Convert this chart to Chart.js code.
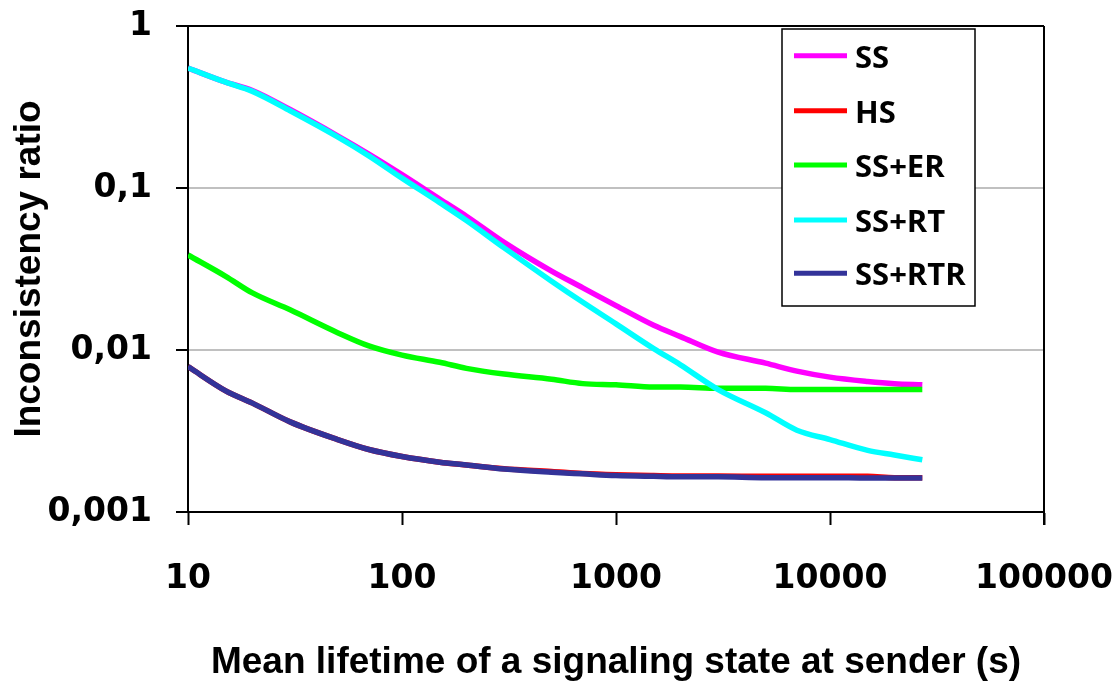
<!DOCTYPE html>
<html>
<head>
<meta charset="utf-8">
<script src="https://cdn.jsdelivr.net/npm/chart.js@4.4.1/dist/chart.umd.min.js"></script>
<style>
html,body{margin:0;padding:0;background:#fff;}
#wrap{position:relative;width:1120px;height:681px;}
</style>
</head>
<body>
<div id="wrap"><canvas id="c" width="1120" height="681"></canvas></div>
<script>
const xValues = [10,15,20,30,50,70,100,150,200,300,500,700,1000,1500,2000,3000,5000,7000,10000,15000,20000,27000];
const ssValues = [0.55,0.45,0.40,0.305,0.21,0.162,0.121,0.0855,0.067,0.0462,0.0307,0.0242,0.0188,0.0142,0.0121,0.0097,0.0083,0.0074,0.0068,0.0064,0.0062,0.0061];
const hsValues = [0.0079,0.0056,0.0047,0.0036,0.0028,0.00243,0.0022,0.00203,0.00195,0.00185,0.00178,0.00173,0.0017,0.00168,0.00167,0.00167,0.00166,0.00166,0.00166,0.00166,0.00163,0.00163];
const ssErValues = [0.0386,0.0285,0.0225,0.0177,0.0128,0.0106,0.0093,0.0084,0.0077,0.0071,0.0066,0.0062,0.0061,0.0059,0.0059,0.0058,0.0058,0.0057,0.0057,0.0057,0.0057,0.0057];
const ssRtValues = [0.55,0.45,0.395,0.30,0.207,0.158,0.115,0.0812,0.063,0.0427,0.0266,0.0197,0.0145,0.0102,0.0081,0.0057,0.0041,0.0032,0.0028,0.0024,0.00225,0.0021];
const ssRtrValues = [0.0079,0.0056,0.0047,0.0036,0.0028,0.00243,0.0022,0.00203,0.00195,0.00184,0.00176,0.00172,0.00168,0.00166,0.00165,0.00165,0.00163,0.00163,0.00163,0.00162,0.00162,0.00162];
const seriesNames = ['SS','HS','SS+ER','SS+RT','SS+RTR'];
const seriesColors = ['#FF00FF','#FF0000','#00FF00','#00FFFF','#333399'];
const xTickValues = [10,100,1000,10000,100000];
const xTickLabels = ['10','100','1000','10000','100000'];
const yTickValues = [0.001,0.01,0.1,1];
const yTickLabels = ['0,001','0,01','0,1','1'];
const xTitle = 'Mean lifetime of a signaling state at sender (s)';
const yTitle = 'Inconsistency ratio';

const allSeries = [ssValues,hsValues,ssErValues,ssRtValues,ssRtrValues];
const datasets = allSeries.map((vals,i)=>({
  label: seriesNames[i],
  data: xValues.map((x,j)=>({x:x,y:vals[j]})),
  borderColor: seriesColors[i],
  backgroundColor: seriesColors[i],
  borderWidth: 5.5,
  pointRadius: 0,
  tension: 0,
  cubicInterpolationMode: 'monotone',
  fill: false,
  order: allSeries.length - 1 - i
}));

const tickFont = {family:'"DejaVu Sans", sans-serif', size:33, weight:'bold'};
const titleFont = {family:'"Liberation Sans", Arial, sans-serif', size:37, weight:'bold'};

function zeroPad(s){s.paddingLeft=0;s.paddingRight=0;s.paddingTop=0;s.paddingBottom=0;}

const legendPlugin = {
  id:'boxLegend',
  afterDraw(chart){
    const ctx = chart.ctx;
    const bx=782, by=29, bw=193, bh=277;
    ctx.save();
    ctx.fillStyle='#fff';
    ctx.fillRect(bx,by,bw,bh);
    ctx.strokeStyle='#000';
    ctx.lineWidth=1.5;
    ctx.strokeRect(bx,by,bw,bh);
    const rows=[55.7,110.7,165,220,273.3];
    seriesNames.forEach((name,i)=>{
      const y=rows[i];
      ctx.strokeStyle=seriesColors[i];
      ctx.lineWidth=5;
      ctx.beginPath();ctx.moveTo(794,y);ctx.lineTo(847,y);ctx.stroke();
      ctx.fillStyle='#000';
      ctx.font='bold 31px "Open Sans", sans-serif';
      ctx.textBaseline='middle';
      ctx.textAlign='left';
      ctx.fillText(name,855,y+3);
    });
    ctx.restore();
  }
};

const borderPlugin = {
  id:'frame',
  afterDatasetsDraw(chart){
    const a=chart.chartArea, ctx=chart.ctx;
    ctx.save();
    ctx.strokeStyle='#000';
    ctx.lineWidth=2;
    ctx.beginPath();
    ctx.moveTo(a.left,a.top);ctx.lineTo(a.right,a.top);
    ctx.moveTo(a.right,a.top);ctx.lineTo(a.right,a.bottom+13);
    ctx.stroke();
    ctx.restore();
  }
};

new Chart(document.getElementById('c'),{
  type:'line',
  data:{datasets:datasets},
  plugins:[borderPlugin,legendPlugin],
  options:{
    responsive:false,
    devicePixelRatio:1,
    animation:false,
    layout:{padding:{top:26,right:76,left:0,bottom:0}},
    plugins:{legend:{display:false},tooltip:{enabled:false}},
    scales:{
      x:{
        type:'logarithmic',
        min:10,max:100000,
        afterBuildTicks(s){s.ticks=xTickValues.map(v=>({value:v}));},
        afterFit(s){s.height=169;zeroPad(s);},
        ticks:{
          callback(v){const k=xTickValues.indexOf(v);return k>=0?xTickLabels[k]:'';},
          font:tickFont,color:'#000',padding:35,maxRotation:0,autoSkip:false
        },
        grid:{display:true,drawOnChartArea:false,tickLength:13,tickColor:'#000',tickWidth:2},
        border:{display:true,color:'#000',width:2},
        title:{display:true,text:xTitle,font:titleFont,color:'#000',padding:{top:20,bottom:-4}}
      },
      y:{
        type:'logarithmic',
        min:0.001,max:1,
        afterBuildTicks(s){s.ticks=yTickValues.map(v=>({value:v}));},
        afterFit(s){s.width=188;zeroPad(s);},
        ticks:{
          callback(v){const k=yTickValues.indexOf(v);return k>=0?yTickLabels[k]:'';},
          font:tickFont,color:'#000',padding:24,autoSkip:false
        },
        grid:{
          display:true,
          color(c){const v=c.tick&&c.tick.value;return (v===0.1||v===0.01)?'#c0c0c0':'rgba(0,0,0,0)';},
          lineWidth:2,tickLength:12,tickColor:'#000',tickWidth:2
        },
        border:{display:true,color:'#000',width:2},
        title:{display:true,text:yTitle,font:titleFont,color:'#000',padding:{top:8,bottom:0}}
      }
    }
  }
});
</script>
</body>
</html>
